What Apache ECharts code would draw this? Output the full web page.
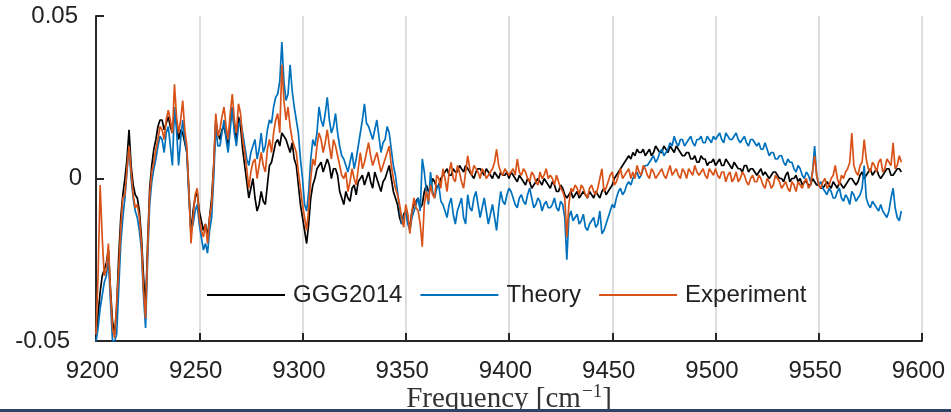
<!DOCTYPE html>
<html>
<head>
<meta charset="utf-8">
<script src="https://cdn.jsdelivr.net/npm/echarts@6/dist/echarts.min.js"></script>
<style>
  html, body { margin: 0; padding: 0; background: #ffffff; }
  #chart { width: 951px; height: 412px; }
</style>
</head>
<body>
<div id="chart"></div>
<script>
// Residual spectra sampled every 1 cm^-1 from 9200 to 9590 cm^-1
const frequencyStart = 9200;
const frequencyStep = 1;

const seriesNames = ['GGG2014', 'Theory', 'Experiment'];
const seriesColors = ['#000000', '#0072BD', '#D95319'];

const xTicks = [9200, 9250, 9300, 9350, 9400, 9450, 9500, 9550, 9600];
const yTickLabels = ['-0.05', '0', '0.05'];

// one row = 20 cm^-1
const ggg2014 = [
  -0.050,-0.042,-0.035,-0.030,-0.028,-0.026,-0.022,-0.034,-0.044,-0.048,-0.040,-0.024,-0.012,-0.005,0.000,0.006,0.015,0.004,-0.002,-0.005,
  -0.006,-0.010,-0.018,-0.030,-0.040,-0.020,-0.003,0.004,0.009,0.012,0.016,0.018,0.018,0.015,0.017,0.019,0.016,0.014,0.020,0.017,
  0.012,0.015,0.014,0.011,0.008,-0.004,-0.017,-0.010,-0.006,-0.004,-0.010,-0.013,-0.016,-0.014,-0.018,-0.012,-0.006,0.004,0.018,0.014,
  0.012,0.015,0.016,0.013,0.010,0.018,0.022,0.015,0.012,0.019,0.016,0.009,0.004,-0.001,-0.006,-0.003,0.000,-0.006,-0.010,-0.008,
  -0.004,-0.007,-0.008,-0.002,0.004,0.005,0.008,0.011,0.012,0.010,0.014,0.013,0.012,0.010,0.008,0.011,0.006,0.004,-0.002,-0.008,
  -0.012,-0.016,-0.020,-0.014,-0.006,-0.002,0.000,0.003,0.004,0.005,0.002,0.004,0.006,0.004,0.000,0.003,0.003,0.001,-0.004,-0.006,
  -0.008,-0.004,-0.006,-0.007,-0.003,-0.002,-0.005,-0.001,0.000,0.001,-0.002,0.000,0.002,-0.001,-0.003,0.002,0.000,-0.002,-0.004,-0.001,
  0.000,0.002,0.004,0.000,-0.004,-0.006,-0.008,-0.012,-0.014,-0.011,-0.010,-0.013,-0.015,-0.010,-0.008,-0.007,-0.006,-0.009,-0.008,-0.004,
  -0.002,-0.004,-0.003,0.000,-0.001,-0.003,-0.002,0.000,0.001,0.002,0.003,0.001,0.001,0.003,0.002,0.002,0.004,0.003,0.002,0.004,
  0.003,0.002,0.001,0.000,0.002,0.003,0.003,0.002,0.001,0.003,0.002,0.001,0.000,0.002,0.001,0.000,0.002,0.001,0.001,0.002,
  0.000,0.002,0.001,0.000,-0.001,0.001,0.000,-0.001,-0.002,0.000,-0.001,-0.003,-0.002,-0.001,0.000,-0.001,-0.002,0.000,-0.001,-0.002,
  -0.003,-0.001,-0.002,-0.004,-0.004,-0.002,-0.003,-0.005,-0.006,-0.005,-0.004,-0.006,-0.005,-0.004,-0.006,-0.005,-0.004,-0.005,-0.006,-0.004,
  -0.005,-0.006,-0.004,-0.005,-0.006,-0.004,-0.003,-0.005,-0.004,-0.003,-0.002,0.000,0.001,0.002,0.003,0.004,0.005,0.006,0.007,0.006,
  0.008,0.007,0.009,0.008,0.008,0.009,0.007,0.008,0.009,0.007,0.008,0.010,0.009,0.008,0.008,0.010,0.009,0.008,0.010,0.009,
  0.008,0.010,0.009,0.008,0.007,0.007,0.008,0.008,0.006,0.006,0.007,0.005,0.005,0.007,0.006,0.006,0.004,0.005,0.005,0.006,
  0.004,0.005,0.006,0.004,0.004,0.006,0.005,0.004,0.003,0.005,0.004,0.003,0.003,0.002,0.004,0.004,0.002,0.003,0.003,0.002,
  0.001,0.002,0.003,0.001,0.002,0.001,0.000,0.001,0.002,0.002,0.001,0.000,0.000,-0.001,0.001,0.002,-0.001,0.000,0.000,0.001,
  -0.001,0.000,-0.002,-0.001,-0.001,-0.002,-0.002,0.000,-0.001,-0.002,-0.002,-0.003,-0.003,-0.002,-0.001,-0.002,-0.003,-0.001,-0.002,-0.003,
  -0.001,-0.002,-0.003,-0.002,-0.001,0.000,0.000,-0.001,-0.002,-0.001,0.001,0.002,0.000,0.001,0.002,0.003,0.001,0.002,0.003,0.001,
  0.000,0.001,0.002,0.003,0.003,0.001,0.001,0.002,0.003,0.003,0.002
];

const theory = [
  -0.050,-0.046,-0.040,-0.036,-0.032,-0.030,-0.025,-0.038,-0.050,-0.050,-0.048,-0.034,-0.020,-0.012,-0.006,0.002,0.010,0.000,-0.006,-0.010,
  -0.012,-0.016,-0.022,-0.036,-0.046,-0.025,-0.008,-0.001,0.003,0.006,0.010,0.013,0.012,0.008,0.014,0.016,0.010,0.004,0.022,0.015,
  0.004,0.012,0.018,0.012,0.008,-0.006,-0.016,-0.014,-0.010,-0.008,-0.014,-0.018,-0.022,-0.020,-0.023,-0.016,-0.012,0.000,0.016,0.010,
  0.010,0.014,0.018,0.012,0.008,0.015,0.022,0.014,0.010,0.016,0.018,0.014,0.010,0.006,0.004,0.008,0.010,0.012,0.006,0.009,
  0.014,0.008,0.010,0.015,0.018,0.017,0.022,0.025,0.026,0.030,0.042,0.030,0.024,0.026,0.035,0.027,0.022,0.018,0.014,0.006,
  0.000,-0.008,-0.010,-0.004,0.006,0.012,0.010,0.014,0.022,0.018,0.016,0.020,0.025,0.018,0.014,0.016,0.020,0.014,0.010,0.007,
  0.006,0.004,0.002,0.005,0.008,0.003,0.006,0.010,0.014,0.018,0.023,0.017,0.016,0.014,0.012,0.015,0.018,0.013,0.008,0.011,
  0.012,0.016,0.014,0.009,0.004,0.001,-0.004,-0.009,-0.014,-0.012,-0.010,-0.014,-0.016,-0.012,-0.010,-0.008,-0.006,-0.010,0.006,0.002,
  -0.004,-0.008,0.002,-0.004,-0.006,-0.003,-0.002,-0.007,-0.008,-0.010,-0.012,-0.008,-0.006,-0.011,-0.014,-0.010,-0.008,-0.006,-0.012,-0.014,
  -0.005,-0.009,-0.010,-0.006,-0.004,-0.008,-0.012,-0.009,-0.006,-0.010,-0.014,-0.011,-0.008,-0.012,-0.016,-0.009,-0.004,-0.007,-0.008,-0.005,
  -0.003,-0.004,-0.006,-0.008,-0.009,-0.006,-0.005,-0.007,-0.008,-0.005,-0.003,-0.006,-0.009,-0.008,-0.006,-0.007,-0.010,-0.008,-0.007,-0.009,
  -0.009,-0.008,-0.006,-0.009,-0.010,-0.007,-0.008,-0.012,-0.025,-0.012,-0.010,-0.013,-0.012,-0.011,-0.014,-0.013,-0.011,-0.015,-0.016,-0.014,
  -0.013,-0.012,-0.015,-0.014,-0.010,-0.017,-0.016,-0.014,-0.012,-0.010,-0.008,-0.009,-0.006,-0.004,-0.003,-0.005,-0.004,-0.002,-0.001,-0.002,
  0.000,0.001,0.002,0.000,0.001,0.003,0.004,0.004,0.005,0.006,0.007,0.005,0.006,0.008,0.009,0.007,0.008,0.009,0.011,0.010,
  0.013,0.011,0.010,0.012,0.012,0.010,0.011,0.012,0.013,0.011,0.010,0.012,0.012,0.013,0.011,0.011,0.013,0.012,0.011,0.013,
  0.012,0.013,0.014,0.012,0.011,0.014,0.013,0.012,0.012,0.013,0.014,0.012,0.011,0.012,0.013,0.011,0.010,0.012,0.012,0.011,
  0.010,0.011,0.009,0.009,0.011,0.009,0.007,0.008,0.008,0.006,0.006,0.007,0.007,0.005,0.004,0.006,0.005,0.005,0.003,0.002,
  0.004,0.003,0.001,0.000,0.002,0.001,-0.001,0.002,0.010,0.001,-0.002,-0.001,-0.003,-0.004,-0.005,-0.003,-0.004,-0.006,-0.006,-0.004,
  -0.003,-0.006,-0.007,-0.005,-0.006,-0.008,-0.004,-0.005,-0.007,-0.006,-0.005,-0.003,0.004,-0.006,-0.008,-0.009,-0.007,-0.008,-0.009,-0.010,
  -0.008,-0.010,-0.011,-0.012,-0.010,-0.006,-0.003,-0.009,-0.012,-0.013,-0.010
];

const experiment = [
  -0.048,-0.030,-0.002,-0.018,-0.030,-0.028,-0.020,-0.035,-0.046,-0.049,-0.038,-0.028,-0.015,-0.006,-0.005,0.003,0.010,0.002,-0.005,-0.009,
  -0.008,-0.012,-0.020,-0.034,-0.043,-0.022,-0.005,0.002,0.005,0.009,0.012,0.016,0.015,0.012,0.018,0.021,0.018,0.014,0.029,0.019,
  0.014,0.018,0.024,0.015,0.010,-0.004,-0.020,-0.012,-0.005,-0.003,-0.012,-0.016,-0.018,-0.014,-0.020,-0.012,-0.008,0.004,0.020,0.013,
  0.015,0.019,0.022,0.016,0.012,0.020,0.026,0.018,0.014,0.023,0.020,0.012,0.008,0.003,-0.003,0.002,0.005,0.006,0.000,0.004,
  0.008,0.004,0.002,0.009,0.012,0.008,0.014,0.018,0.020,0.014,0.035,0.024,0.018,0.022,0.016,0.012,0.010,0.008,0.002,-0.003,
  -0.008,-0.012,-0.016,-0.009,0.000,0.006,0.004,0.010,0.014,0.012,0.008,0.011,0.015,0.010,0.006,0.012,0.010,0.007,0.004,0.001,
  0.000,0.002,-0.004,-0.001,0.003,0.000,-0.002,0.003,0.008,0.003,0.005,0.008,0.011,0.007,0.004,0.006,0.008,0.005,0.002,0.004,
  0.006,0.008,0.010,0.004,0.000,-0.003,-0.005,-0.008,-0.012,-0.015,-0.008,-0.011,-0.017,-0.010,-0.006,-0.009,-0.010,-0.014,-0.021,-0.008,
  -0.004,-0.007,-0.002,-0.005,-0.006,0.001,0.000,-0.003,0.003,0.000,-0.004,0.002,0.005,0.000,-0.001,0.004,0.002,-0.001,-0.003,0.002,
  0.007,0.003,0.001,0.004,0.003,0.002,0.000,0.003,0.002,0.000,0.001,0.002,0.003,0.005,0.009,0.004,0.002,0.001,0.003,0.002,
  0.001,0.002,0.003,0.001,0.006,0.002,0.001,0.003,0.002,0.000,-0.001,0.002,0.001,-0.001,-0.002,0.002,0.000,0.001,0.003,0.000,
  0.001,0.000,-0.002,0.001,-0.001,-0.003,-0.004,-0.006,-0.018,-0.008,-0.003,-0.004,-0.002,-0.003,-0.005,-0.002,-0.003,-0.005,-0.006,-0.003,
  -0.002,-0.004,-0.005,-0.003,0.000,0.003,-0.004,-0.003,-0.001,0.001,0.002,-0.002,-0.001,0.001,0.003,0.000,0.001,0.002,0.003,0.000,
  0.002,0.000,0.004,0.002,0.001,0.004,0.003,0.001,0.000,0.003,0.002,0.000,0.001,0.002,0.003,0.001,0.000,0.002,0.004,0.001,
  0.002,0.003,0.001,0.000,0.003,0.002,0.000,0.003,0.002,0.001,0.004,0.002,0.001,0.002,0.003,0.001,0.000,0.003,0.002,0.001,
  0.003,0.001,0.000,0.002,0.002,-0.001,0.001,0.002,-0.001,0.000,0.002,-0.001,0.000,0.002,0.001,-0.001,-0.002,0.000,0.001,-0.001,
  -0.001,0.001,0.000,-0.002,-0.003,0.000,-0.001,-0.003,-0.002,0.001,0.000,-0.001,-0.003,-0.002,-0.001,-0.003,-0.004,-0.001,-0.002,-0.004,
  -0.001,-0.002,-0.003,-0.001,0.000,-0.003,-0.002,0.002,0.007,0.001,-0.002,-0.003,-0.001,0.000,-0.003,-0.002,0.000,0.001,0.004,0.000,
  -0.002,0.001,0.000,0.002,0.003,0.005,0.014,0.004,0.002,0.001,0.004,0.005,0.012,0.006,0.003,0.002,0.005,0.004,0.002,0.005,
  0.006,0.002,0.003,0.006,0.005,0.004,0.011,0.003,0.004,0.007,0.005
];

const seriesValues = [ggg2014, theory, experiment];

function toPairs(values) {
  return values.map((v, i) => [frequencyStart + i * frequencyStep, v]);
}

const sans = 'Liberation Sans, Arial, Helvetica, sans-serif';
const serif = 'Liberation Serif, Times New Roman, serif';
const inkColor = '#222222';

const chart = echarts.init(document.getElementById('chart'), null, { renderer: 'canvas' });

chart.setOption({
  animation: false,
  backgroundColor: '#ffffff',
  grid: {
    left: 96, right: 29, top: 16, bottom: 71,
    containLabel: false,
    outerBoundsMode: 'none'
  },
  legend: {
    data: seriesNames,
    left: 207,
    top: 283,
    padding: 0,
    icon: 'rect',
    itemWidth: 78,
    itemHeight: 2,
    itemGap: 18,
    textStyle: { fontSize: 24, color: inkColor, fontFamily: sans, padding: [0, 0, 0, 3] }
  },
  xAxis: {
    type: 'value',
    min: xTicks[0],
    max: xTicks[xTicks.length - 1],
    interval: 50,
    name: '{n|Frequency [cm}{s|\u22121}{n|]}',
    nameLocation: 'middle',
    nameGap: 42,
    nameMoveOverlap: false,
    nameTextStyle: {
      verticalAlign: 'top',
      rich: {
        n: { fontSize: 29, fontFamily: serif, color: '#333333' },
        s: { fontSize: 19, fontFamily: serif, color: '#333333', padding: [0, 0, 14, 1] }
      }
    },
    axisLine: { show: true, onZero: false, lineStyle: { color: '#262626', width: 2 } },
    axisTick: { show: true, inside: true, length: 8, lineStyle: { color: '#262626', width: 2 } },
    axisLabel: {
      fontSize: 24,
      fontFamily: sans,
      color: inkColor,
      margin: 18,
      padding: [0, 7, 0, 0],
      formatter: v => String(v)
    },
    splitLine: { show: true, lineStyle: { color: '#dedede', width: 2 } }
  },
  yAxis: {
    type: 'value',
    min: -0.05,
    max: 0.05,
    interval: 0.05,
    axisLine: { show: true, onZero: false, lineStyle: { color: '#262626', width: 2 } },
    axisTick: { show: true, inside: true, length: 8, lineStyle: { color: '#262626', width: 2 } },
    axisLabel: {
      fontSize: 24,
      fontFamily: sans,
      color: inkColor,
      margin: 14,
      formatter: v => {
        if (Math.abs(v) < 1e-9) return '{z|' + yTickLabels[1] + '}';
        if (v > 0) return '{p|' + yTickLabels[2] + '}';
        return '{m|' + yTickLabels[0] + '}';
      },
      rich: {
        z: { fontSize: 24, fontFamily: sans, color: inkColor },
        p: { fontSize: 24, fontFamily: sans, color: inkColor, padding: [0, 4, 0, 0] },
        m: { fontSize: 24, fontFamily: sans, color: inkColor, padding: [0, 12, 0, 0] }
      }
    },
    splitLine: { show: false }
  },
  series: seriesNames.map((name, k) => ({
    name: name,
    type: 'line',
    data: toPairs(seriesValues[k]),
    symbol: 'none',
    showSymbol: false,
    sampling: null,
    clip: true,
    z: 2 + k,
    lineStyle: { color: seriesColors[k], width: 1.7 },
    itemStyle: { color: seriesColors[k] }
  })),
  graphic: [
    {
      type: 'rect',
      left: 0,
      top: 409,
      z: 100,
      shape: { width: 951, height: 3 },
      style: { fill: '#2c4466' }
    }
  ]
});
</script>
</body>
</html>
